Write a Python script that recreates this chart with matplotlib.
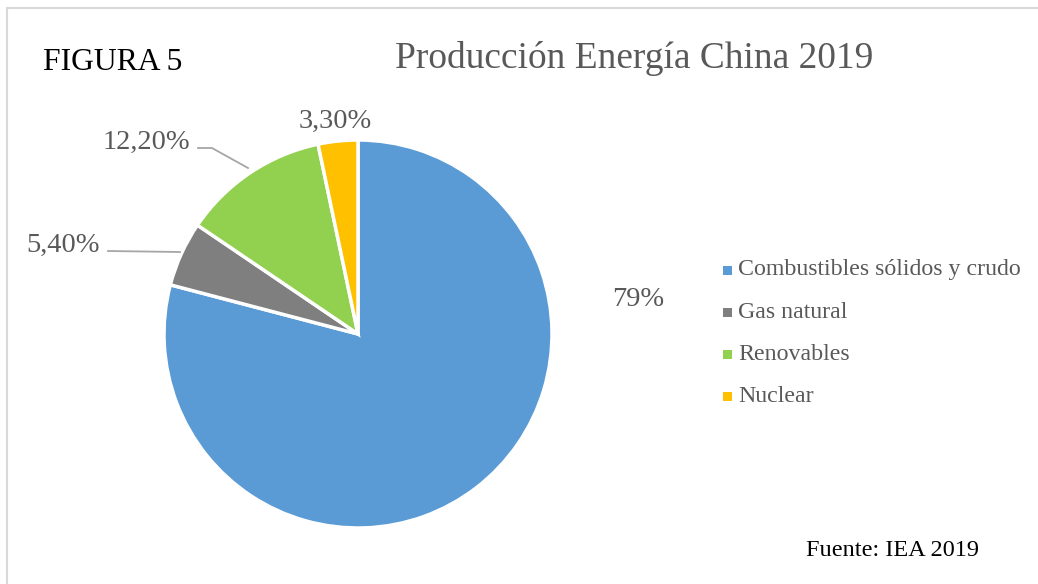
import matplotlib
matplotlib.use("Agg")
import matplotlib.pyplot as plt
from matplotlib.patches import Rectangle

# Producción de energía en China, 2019 (IEA)
categorias = ["Combustibles sólidos y crudo", "Gas natural", "Renovables", "Nuclear"]
porcentajes = [79.0, 5.4, 12.2, 3.3]
etiquetas = ["79%", "5,40%", "12,20%", "3,30%"]
colores = ["#5B9BD5", "#7F7F7F", "#92D050", "#FFC000"]

W, H = 1038, 584
TXT = "#595959"

plt.rcParams["font.family"] = ["Liberation Serif", "DejaVu Serif"]

fig = plt.figure(figsize=(W / 100, H / 100), dpi=100)
ax = fig.add_axes([0, 0, 1, 1])

# marco del gráfico (solo se ven los bordes superior e izquierdo)
ax.add_patch(Rectangle((7, -20), W + 40, H - 8 + 20, fill=False,
                       edgecolor="#D9D9D9", linewidth=1.5))

cx, cy, r = 358, H - 334, 194
wedges, _ = ax.pie(porcentajes, colors=colores, startangle=90, counterclock=False,
                   center=(cx, cy), radius=r, frame=True,
                   wedgeprops=dict(edgecolor="white", linewidth=2.5))
ax.set_xlim(0, W)
ax.set_ylim(0, H)
ax.set_aspect("equal")
ax.axis("off")

# etiquetas de datos con líneas guía
pos_etiquetas = [(638, H - 300), (63, H - 245), (146, H - 142), (335, H - 121)]
for (x, y), txt in zip(pos_etiquetas, etiquetas):
    ax.text(x, y, txt, ha="center", va="center", fontsize=20.5, color=TXT)
ax.plot([198, 212, 248], [H - 148, H - 148, H - 168], color="#A6A6A6", lw=1.3)
ax.plot([108, 180], [H - 251, H - 252], color="#A6A6A6", lw=1.3)

# leyenda
for i, (cat, col) in enumerate(zip(categorias, colores)):
    y = H - (270 + i * 42.3)
    ax.add_patch(Rectangle((723, y - 4.5), 9, 9, facecolor=col, edgecolor="none"))
    ax.text(738, y, cat, ha="left", va="center", fontsize=17.2, color=TXT)

fig.text(43 / W, 1 - 62 / H, "FIGURA 5", ha="left", va="center", fontsize=22.8, color="black")
fig.text(634 / W, 1 - 58 / H, "Producción Energía China 2019", ha="center", va="center",
         fontsize=26.9, color=TXT)
fig.text(892 / W, 1 - 551 / H, "Fuente: IEA 2019", ha="center", va="center",
         fontsize=17.5, color="black")

fig.savefig("out.png", dpi=100, facecolor="white")
